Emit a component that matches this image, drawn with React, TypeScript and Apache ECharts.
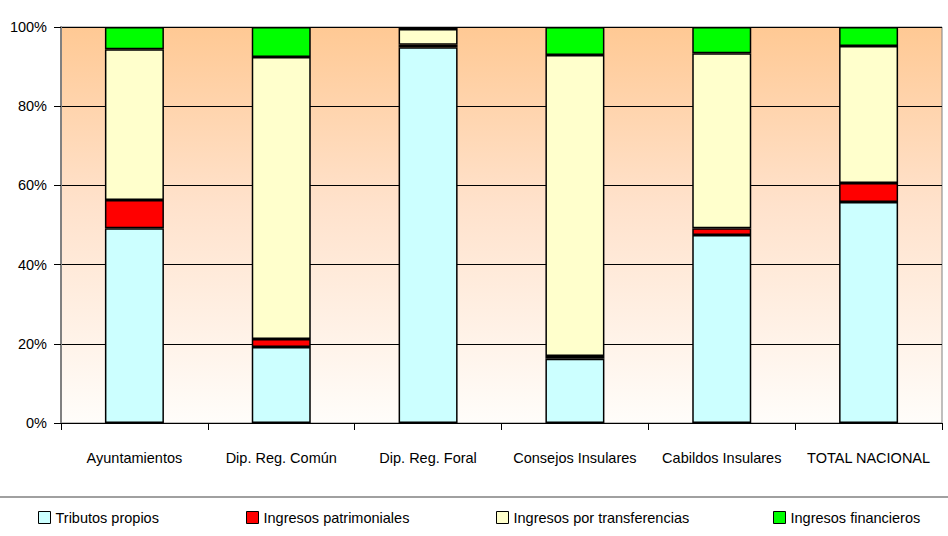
import React, { useEffect, useRef } from "react";
import * as echarts from "echarts";

const categories = ["Ayuntamientos", "Dip. Reg. Común", "Dip. Reg. Foral", "Consejos Insulares", "Cabildos Insulares", "TOTAL NACIONAL"];
const seriesNames = ["Tributos propios", "Ingresos patrimoniales", "Ingresos por transferencias", "Ingresos financieros"];
const tributos = [49.2, 19.2, 94.9, 16.2, 47.5, 55.8];
const patrimoniales = [7.1, 2.0, 0.6, 0.7, 1.7, 4.8];
const transferencias = [38.1, 71.2, 4.0, 76.0, 44.2, 34.6];
const financieros = [5.6, 7.6, 0.5, 7.1, 6.6, 4.8];
const colors = ["#CCFFFF", "#FF0000", "#FFFFCC", "#00FF00"];
const legendLefts = [38, 246, 496, 773];

export default function App() {
  const ref = useRef<HTMLDivElement>(null);
  useEffect(() => {
    document.body.style.margin = "0";
    const chart = echarts.init(ref.current!, null, { renderer: "svg" });
    const values = [tributos, patrimoniales, transferencias, financieros];
    const font = "Liberation Sans, Arial, sans-serif";
    chart.setOption({
      animation: false,
      textStyle: { fontFamily: font },
      grid: {
        left: 61, right: 6, top: 27, bottom: 113,
        show: true,
        borderColor: "#808080",
        borderWidth: 1,
        backgroundColor: new echarts.graphic.LinearGradient(0, 0, 0, 1, [
          { offset: 0, color: "#FFC994" },
          { offset: 0.45, color: "#FFE2CC" },
          { offset: 1, color: "#FFFDFA" },
        ]),
      },
      legend: seriesNames.map((n, i) => ({
        data: [n],
        left: legendLefts[i],
        top: 510,
        padding: 0,
        icon: "rect",
        itemWidth: 12,
        itemHeight: 12,
        itemGap: 0,
        textStyle: { fontSize: 14.5, color: "#000", fontFamily: font },
        itemStyle: { borderColor: "#000", borderWidth: 1 },
        selectedMode: false,
      })),
      xAxis: {
        type: "category",
        data: categories,
        axisLine: { lineStyle: { color: "#000", width: 1 } },
        axisTick: { show: true, interval: 0, length: 7, lineStyle: { color: "#000" } },
        axisLabel: { interval: 0, color: "#000", fontSize: 14.5, margin: 27, fontFamily: font },
      },
      yAxis: {
        type: "value",
        min: 0,
        max: 100,
        interval: 20,
        axisLine: { show: true, lineStyle: { color: "#808080", width: 2 } },
        axisTick: { show: true, length: 7, lineStyle: { color: "#000" } },
        axisLabel: { formatter: "{value}%", color: "#000", fontSize: 14.5, margin: 14, fontFamily: font },
        splitLine: { lineStyle: { color: "#000", width: 1 } },
      },
      graphic: [
        {
          type: "line",
          shape: { x1: 0, y1: 497, x2: 948, y2: 497 },
          style: { stroke: "#808080", lineWidth: 1.5 },
        },
      ],
      series: seriesNames.map((n, i) => ({
        name: n,
        type: "bar",
        stack: "total",
        data: values[i],
        barWidth: 59,
        itemStyle: { color: colors[i], borderColor: "#000", borderWidth: 1.5 },
      })),
    });
    return () => chart.dispose();
  }, []);
  return <div ref={ref} style={{ width: 948, height: 536 }} />;
}
